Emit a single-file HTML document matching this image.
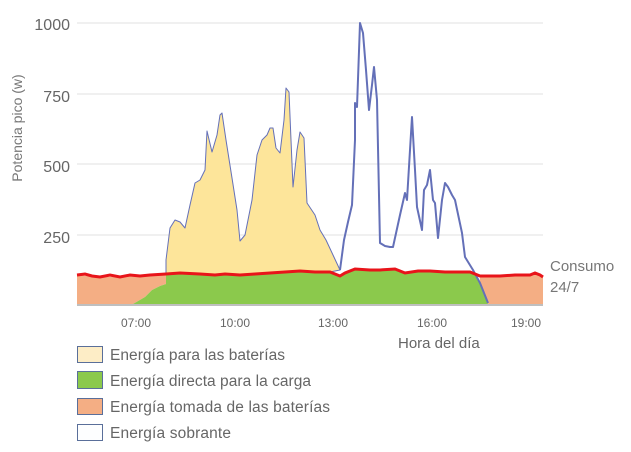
<!DOCTYPE html>
<html><head><meta charset="utf-8"><style>
body{margin:0;background:#fff;width:631px;height:452px;overflow:hidden}
svg{display:block;font-family:"Liberation Sans",sans-serif}
</style></head><body>
<svg width="631" height="452" viewBox="0 0 631 452">
<g stroke="#ececec" stroke-width="1.5">
<line x1="77" y1="23" x2="543" y2="23"/><line x1="77" y1="94" x2="543" y2="94"/>
<line x1="77" y1="164" x2="543" y2="164"/><line x1="77" y1="235" x2="543" y2="235"/>
</g>
<g fill="#666" font-size="16" text-anchor="end">
<text x="70" y="30">1000</text><text x="70" y="102">750</text><text x="70" y="172">500</text><text x="70" y="243">250</text>
</g>
<text transform="translate(22,128) rotate(-90)" fill="#777" font-size="14" text-anchor="middle">Potencia pico (w)</text>
<g fill="#666" font-size="12" text-anchor="middle">
<text x="136" y="327">07:00</text><text x="235" y="327">10:00</text><text x="333" y="327">13:00</text><text x="432" y="327">16:00</text><text x="526" y="327">19:00</text>
</g>
<path d="M77,275 L100,277 L140,276 L166,274 L166,284 L160,286 L152,290 L145,297 L133,304 L77,304Z" fill="#f4ae84"/>
<path d="M480,276 L500,276 L530,275 L535,273 L543,277 L543,304 L488,304 L480,283Z" fill="#f4ae84"/>
<path d="M133,304 L145,297 L152,290 L160,286 L166,284 L166,274 L200,274 L240,275 L270,273 L300,271 L330,272 L340,276 L355,269 L380,270 L395,269 L405,273 L430,271 L470,272 L473,272 L480,283 L488,304Z" fill="#8bc94c"/>
<path d="M166,274 L166,260 L170,228 L175,220 L180,222 L185,228 L190,205 L195,183 L200,180 L205,170 L207,131 L212,152 L217,135 L220,115 L222,113 L226,140 L232,178 L237,210 L240,241 L245,235 L250,210 L252,200 L257,155 L262,140 L267,135 L270,128 L273,128 L276,148 L280,153 L284,120 L286,88 L289,92 L291,140 L293,187 L297,150 L300,132 L304,138 L307,203 L315,215 L320,230 L326,240 L333,255 L340,270 L330,272 L300,271 L270,273 L240,275 L200,274Z" fill="#fde59a" stroke="#6470b8" stroke-width="1" stroke-linejoin="round"/>
<path d="M340,270 L344,240 L348,222 L352,205 L355,140 L355,103 L357,107 L360,23 L363,33 L366,70 L369,110 L372,85 L374,67 L377,100 L380,243 L385,246 L390,247 L393,247 L400,215 L405,193 L407,200 L410,150 L412,117 L415,170 L417,207 L422,230 L424,190 L427,185 L430,170 L433,200 L435,203 L438,238 L442,200 L445,183 L448,187 L452,195 L455,200 L462,233 L465,257 L473,270 L480,283 L488,303" fill="none" stroke="#6470b8" stroke-width="2" stroke-linejoin="round"/>
<path d="M77,275 L85,274 L92,276 L100,277 L110,275 L120,277 L130,275 L140,276 L150,275 L166,274 L180,273 L200,274 L215,275 L225,274 L240,275 L255,274 L270,273 L285,272 L300,271 L315,272 L330,272 L340,276 L345,273 L355,269 L370,270 L380,270 L395,269 L405,273 L418,271 L430,271 L445,272 L470,272 L480,276 L500,276 L515,275 L530,275 L535,273 L540,275 L543,277" fill="none" stroke="#e8141a" stroke-width="3"/>
<line x1="77" y1="305" x2="543" y2="305" stroke="#aaa" stroke-width="1.5"/>
<g fill="#777" font-size="15"><text x="550" y="271">Consumo</text><text x="550" y="292">24/7</text></g>
<text x="398" y="348" fill="#666" font-size="15">Hora del día</text>
<g stroke="#5a6f9a" stroke-width="1">
<rect x="77.5" y="346.5" width="25" height="16" fill="#fdedc6"/>
<rect x="77.5" y="371.5" width="25" height="17" fill="#8bc94c"/>
<rect x="77.5" y="398.5" width="25" height="16" fill="#f4ae84"/>
<rect x="77.5" y="424.5" width="25" height="16" fill="#fdfeff"/>
</g>
<g fill="#666" font-size="15.5">
<text x="110" y="360" textLength="175">Energía para las baterías</text>
<text x="110" y="386" textLength="201">Energía directa para la carga</text>
<text x="110" y="412" textLength="220">Energía tomada de las baterías</text>
<text x="110" y="438" textLength="121">Energía sobrante</text>
</g>
</svg>
</body></html>
